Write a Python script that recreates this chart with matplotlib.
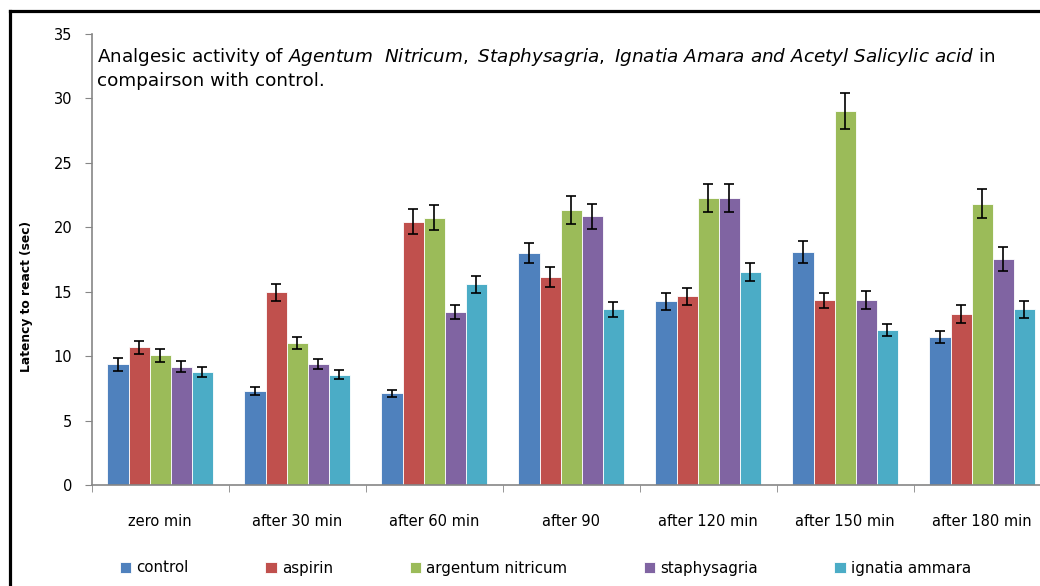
import numpy as np
import matplotlib.pyplot as plt
from matplotlib.lines import Line2D

plt.rcParams['font.family'] = 'DejaVu Sans'
plt.rcParams['mathtext.fontset'] = 'custom'
plt.rcParams['mathtext.rm'] = 'DejaVu Sans'
plt.rcParams['mathtext.it'] = 'DejaVu Sans:italic'

categories = ["zero min", "after 30 min", "after 60 min", "after 90",
              "after 120 min", "after 150 min", "after 180 min"]
series = ["control", "aspirin", "argentum nitricum", "staphysagria", "ignatia ammara"]
colors = ["#4F81BD", "#C0504D", "#9BBB59", "#8064A2", "#4BACC6"]

control = [9.37, 7.32, 7.12, 17.98, 14.25, 18.08, 11.51]
aspirin = [10.68, 14.95, 20.43, 16.17, 14.64, 14.33, 13.30]
argentum = [10.06, 11.00, 20.75, 21.34, 22.25, 29.05, 21.83]
staphysagria = [9.18, 9.37, 13.45, 20.85, 22.25, 14.33, 17.56]
ignatia = [8.77, 8.56, 15.57, 13.63, 16.55, 12.00, 13.63]

control_err = [0.50, 0.30, 0.27, 0.78, 0.68, 0.88, 0.47]
aspirin_err = [0.50, 0.65, 0.99, 0.77, 0.67, 0.60, 0.70]
argentum_err = [0.50, 0.46, 0.98, 1.09, 1.09, 1.40, 1.12]
staphysagria_err = [0.45, 0.40, 0.55, 0.95, 1.09, 0.70, 0.94]
ignatia_err = [0.40, 0.35, 0.68, 0.60, 0.70, 0.47, 0.67]

values = [control, aspirin, argentum, staphysagria, ignatia]
errors = [control_err, aspirin_err, argentum_err, staphysagria_err, ignatia_err]

fig = plt.figure(figsize=(10.4, 5.86), dpi=100)
ax = fig.add_axes([0.0882, 0.1724, 0.9221, 0.7696])

x = np.arange(len(categories))
w = 0.154
for i, (vals, errs) in enumerate(zip(values, errors)):
    pos = x + (i - 2) * w
    ax.bar(pos, vals, width=w, color=colors[i], edgecolor='white', linewidth=0.6,
           label=series[i], zorder=2)
    ax.errorbar(pos, vals, yerr=errs, fmt='none', ecolor='black', elinewidth=1.2,
                capsize=3.4, capthick=1.2, zorder=3)

ax.set_xlim(-0.5, len(categories) - 0.5)
ax.set_ylim(0, 35)
ax.set_yticks(range(0, 36, 5))
ax.set_xticks(x)
ax.set_xticklabels(categories, fontsize=10.5)
ax.set_xticks(np.arange(-0.5, len(categories), 1), minor=True)
ax.tick_params(axis='x', which='major', length=0, pad=21)
ax.tick_params(axis='x', which='minor', length=5, color='#868686', direction='out')
ax.tick_params(axis='y', length=5, color='#868686', labelsize=10.5, pad=9)

for s in ['top', 'right']:
    ax.spines[s].set_visible(False)
for s in ['left', 'bottom']:
    ax.spines[s].set_color('#868686')
    ax.spines[s].set_linewidth(1.2)

ax.set_ylabel("Latency to react (sec)", fontsize=8.8, fontweight='bold')
ax.yaxis.set_label_coords(-0.061, 0.417)

title1 = (r"Analgesic activity of $\mathit{Agentum\ \ Nitricum,\ Staphysagria,\ Ignatia\ Amara\ and\ "
          r"Acetyl\ Salicylic\ acid}$ in")
fig.text(97 / 1040, 1 - 57 / 586, title1, fontsize=13.2, va='center', ha='left')
fig.text(97 / 1040, 1 - 81 / 586, "compairson with control.", fontsize=13.2, va='center', ha='left')

fig.legend(loc='center left', bbox_to_anchor=(120 / 1040, 1 - 568 / 586), ncol=5,
           frameon=False, fontsize=10.8, handlelength=0.75, handleheight=0.75,
           handletextpad=0.35, columnspacing=5.1, borderpad=0, borderaxespad=0)

# black frame on the top and left edge
fig.add_artist(Line2D([9.5 / 1040, 9.5 / 1040], [0, 1 - 10.5 / 586], color='black', lw=2.3,
                      transform=fig.transFigure, solid_capstyle='projecting'))
fig.add_artist(Line2D([9.5 / 1040, 1], [1 - 10.5 / 586, 1 - 10.5 / 586], color='black', lw=2.3,
                      transform=fig.transFigure, solid_capstyle='projecting'))

fig.savefig("out.png", dpi=100)
